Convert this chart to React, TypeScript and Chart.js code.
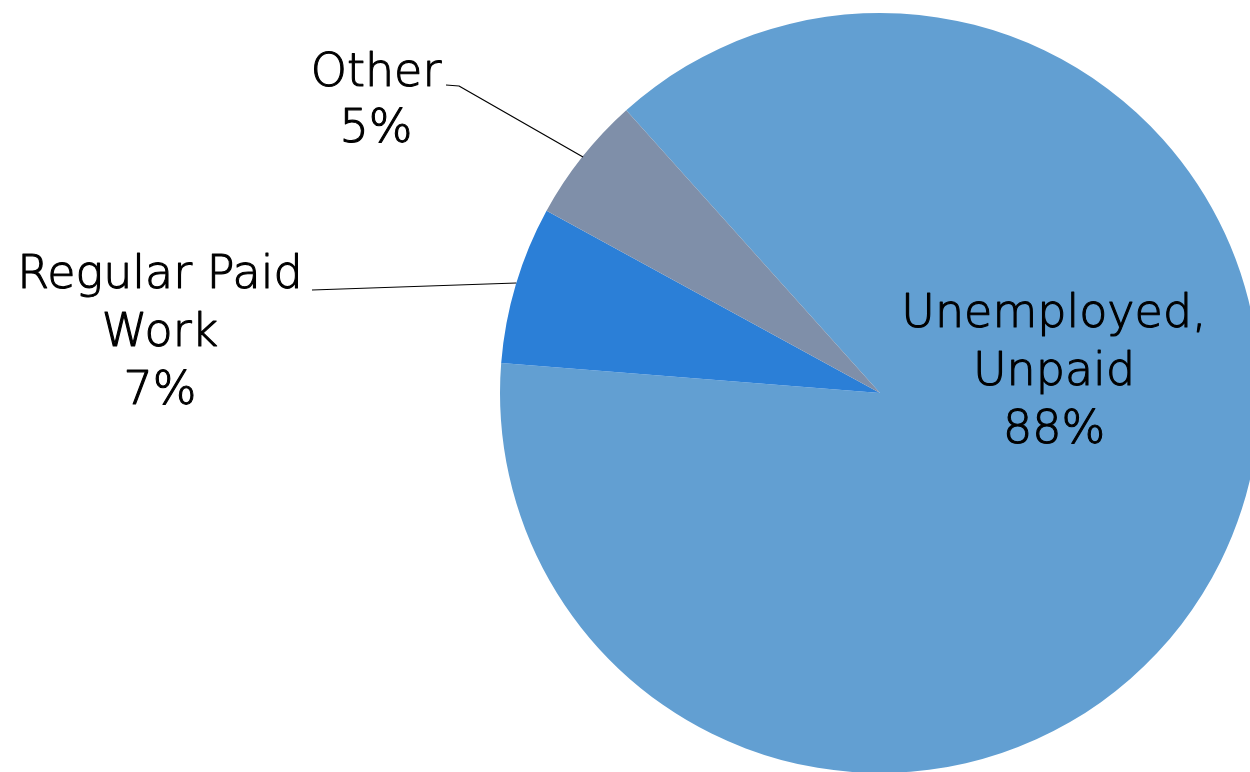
import React, { useEffect, useRef } from "react";
import { Chart, registerables } from "chart.js";

Chart.register(...registerables);

const categories = ["Unemployed, Unpaid", "Regular Paid Work", "Other"];
const values = [87.9, 6.7, 5.4];
const percentLabels = ["88%", "7%", "5%"];
const colors = ["#629FD2", "#2B7FD7", "#7F8FA9"];

const FONT = "200 46px 'DejaVu Sans', 'DejaVu Sans ExtraLight'";

const labelPlugin = {
  id: "pieLabels",
  afterDraw(chart: any) {
    const ctx = chart.ctx as CanvasRenderingContext2D;
    const meta = chart.getDatasetMeta(0);
    const arcs = meta.data;
    const oy = 7; // canvas offset (canvas top at -7)
    ctx.save();
    ctx.font = FONT;
    ctx.fillStyle = "#000";
    ctx.strokeStyle = "#000";
    ctx.textAlign = "center";
    ctx.textBaseline = "alphabetic";
    ctx.lineJoin = "round";

    const text = (s: string, x: number, y: number) => {
      ctx.lineWidth = 1.1;
      ctx.fillText(s, x, y);
      ctx.strokeText(s, x, y);
    };

    // Unemployed (inside)
    const a0 = arcs[0];
    const cx = a0.x, cy = a0.y;
    const lx0 = cx + 174, ly0 = cy - 66;
    text("Unemployed,", lx0, ly0);
    text("Unpaid", lx0, ly0 + 58);
    text(percentLabels[0], lx0, ly0 + 116);

    // Regular Paid Work
    const a1 = arcs[1];
    const r = a1.outerRadius;
    text("Regular Paid", 160, 288 + oy);
    text("Work", 160, 346 + oy);
    text(percentLabels[1], 160, 404 + oy);
    const ey1 = 283 + oy;
    const ex1 = cx - Math.sqrt(r * r - (ey1 - cy) * (ey1 - cy));
    ctx.lineWidth = 1.2;
    ctx.beginPath();
    ctx.moveTo(312, 290 + oy);
    ctx.lineTo(ex1, ey1);
    ctx.stroke();

    // Other
    text("Other", 376, 86 + oy);
    text(percentLabels[2], 376, 142 + oy);
    ctx.lineWidth = 1.2;
    ctx.beginPath();
    ctx.moveTo(446, 85 + oy);
    ctx.lineTo(459, 86 + oy);
    ctx.lineTo(583, 157 + oy);
    ctx.stroke();
    ctx.restore();
  },
};

export default function App() {
  const ref = useRef<HTMLCanvasElement | null>(null);
  useEffect(() => {
    if (!ref.current) return;
    const chart = new Chart(ref.current, {
      type: "pie",
      data: {
        labels: categories,
        datasets: [
          {
            data: values,
            backgroundColor: colors,
            borderWidth: 0,
          },
        ],
      },
      options: {
        animation: false,
        responsive: false,
        maintainAspectRatio: false,
        rotation: -41.9,
        layout: { padding: { left: 500, right: 30, top: 20, bottom: 20 } },
        plugins: {
          legend: { display: false },
          tooltip: { enabled: false },
        },
      },
      plugins: [labelPlugin],
    });
    return () => chart.destroy();
  }, []);
  return (
    <div
      style={{
        position: "fixed",
        left: 0,
        top: 0,
        width: 1250,
        height: 772,
        overflow: "hidden",
        background: "#fff",
      }}
    >
      <canvas
        ref={ref}
        width={1290}
        height={800}
        style={{ position: "absolute", left: 0, top: -7, width: 1290, height: 800 }}
      />
    </div>
  );
}
